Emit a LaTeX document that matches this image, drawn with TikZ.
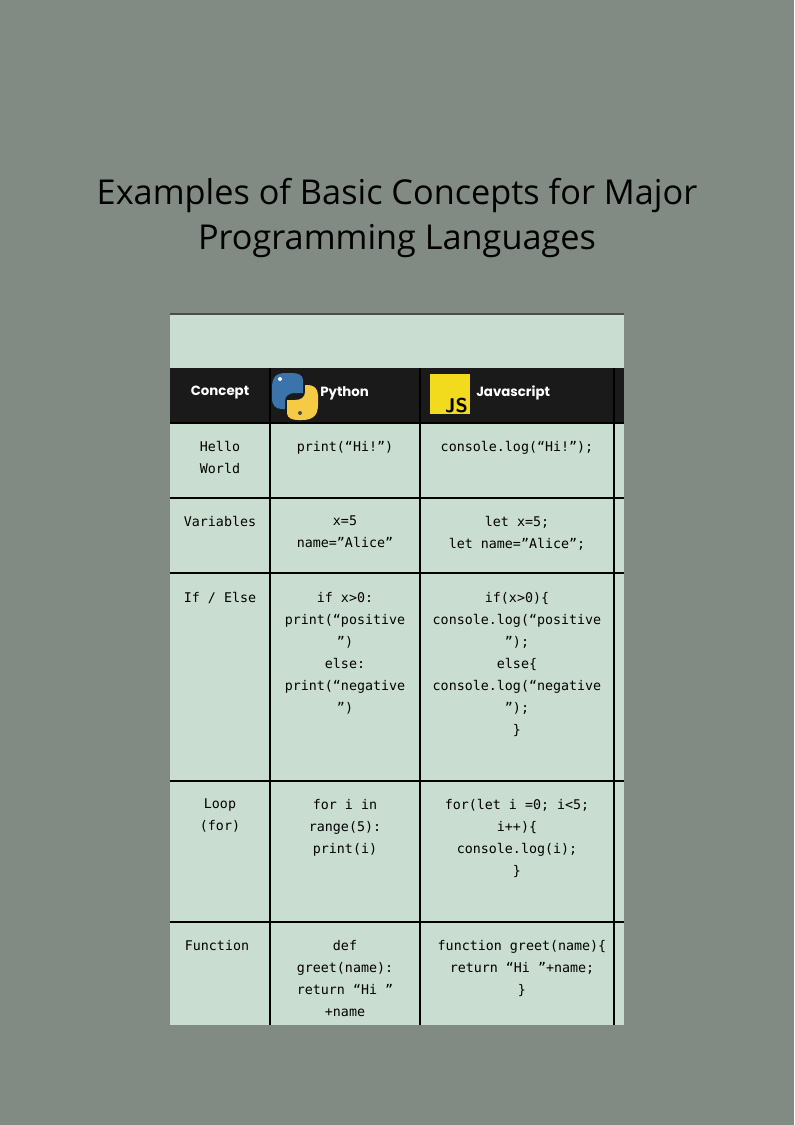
\documentclass[tikz,border=0pt]{standalone}
\usepackage{fontspec}
\setmainfont{Open Sans}
\newfontfamily\codefont{DejaVu Sans Mono}
\newfontfamily\headfont{Poppins}
\definecolor{bg}{HTML}{828B83}
\definecolor{cell}{HTML}{CADDD1}
\definecolor{hdr}{HTML}{1A1A1A}
\definecolor{pyblue}{HTML}{3A74AB}
\definecolor{pyyellow}{HTML}{F5CB45}
\definecolor{jsy}{HTML}{F2DA1C}
\tikzset{
  code/.style={font=\codefont\fontsize{10}{16.5}\selectfont, align=center, anchor=north, inner sep=0pt, text=black},
  head/.style={font=\headfont\bfseries\fontsize{10}{12}\selectfont, text=white, inner sep=0pt},
  grid/.style={line width=2.2pt, draw=black}
}
\begin{document}
\begin{tikzpicture}[x=0.75pt,y=-0.75pt]
\useasboundingbox (0,0) rectangle (794,1125);
\fill[bg] (0,0) rectangle (794,1125);
\node[font=\fontsize{25.7}{34}\selectfont, align=center, text=black] (title) at (397,218) {Examples of Basic Concepts for Major\\Programming Languages};
% table
\fill[cell] (170,314) rectangle (624,1025);
\draw[line width=1.5pt, draw=black!70] (170,314) -- (624,314);
\fill[hdr] (170,368) rectangle (624,423);
\foreach \y in {423,498,573,781,922} \draw[grid] (170,\y) -- (624,\y);
\foreach \x in {270,420,614} \draw[grid] (\x,368) -- (\x,1025);
% header
\node[head] (hc) at (220,393) {Concept};
% python logo
\begin{scope}
\fill[pyblue] (286,373) .. controls (276,373) and (272,377) .. (272,388) -- (272,398) .. controls (272,406) and (276,409) .. (282,409) -- (285,409) -- (285,401) .. controls (285,396) and (289,393) .. (295,393) -- (303,393) -- (303,380) .. controls (303,375) and (298,373) .. (292,373) -- cycle;
\fill[pyblue] (284,386) rectangle (298,393);
\fill[pyyellow] (302,420) .. controls (312,420) and (318,416) .. (318,405) -- (318,395) .. controls (318,388) and (313,385) .. (308,385) -- (305,385) -- (305,392) .. controls (305,397) and (301,400) .. (295,400) -- (287,400) -- (287,413) .. controls (287,418) and (292,420) .. (298,420) -- cycle;
\fill[pyyellow] (292,400) rectangle (306,407);
\fill[white] (280,379) circle (2);
\fill[black!70] (300,413) circle (2);
\end{scope}
\node[head, anchor=west] (hp) at (320,393) {Python};
\fill[jsy] (430,374) rectangle (470,414);
\node[font=\sffamily\bfseries\fontsize{15}{15}\selectfont, text=black, anchor=south east, inner sep=0pt] (js) at (468,413) {JS};
\node[head, anchor=west] (hj) at (476,393) {Javascript};
% rows
\node[code] (c1) at (220,441) {Hello\\World};
\node[code] (p1) at (345,441) {print(“Hi!”)};
\node[code] (j1) at (517,441) {console.log(“Hi!”);};
\node[code] (c2) at (220,516) {Variables};
\node[code] (p2) at (345,516) {x=5\\name=”Alice”};
\node[code] (j2) at (517,516) {let x=5;\\let name=”Alice”;};
\node[code] (c3) at (220,592) {If / Else};
\node[code] (p3) at (345,592) {if x>0:\\print(“positive\\”)\\else:\\print(“negative\\”)};
\node[code] (j3) at (517,592) {if(x>0)\{\\console.log(“positive\\”);\\else\{\\console.log(“negative\\”);\\\}};
\node[code] (c4) at (220,799) {Loop\\(for)};
\node[code] (p4) at (345,799) {for i in\\range(5):\\print(i)};
\node[code] (j4) at (517,799) {for(let i =0; i<5;\\i++)\{\\console.log(i);\\\}};
\node[code] (c5) at (217,940) {Function};
\node[code] (p5) at (345,940) {def\\greet(name):\\return “Hi ”\\+name};
\node[code] (j5) at (522,940) {function greet(name)\{\\return “Hi ”+name;\\\}};
\end{tikzpicture}
\end{document}
